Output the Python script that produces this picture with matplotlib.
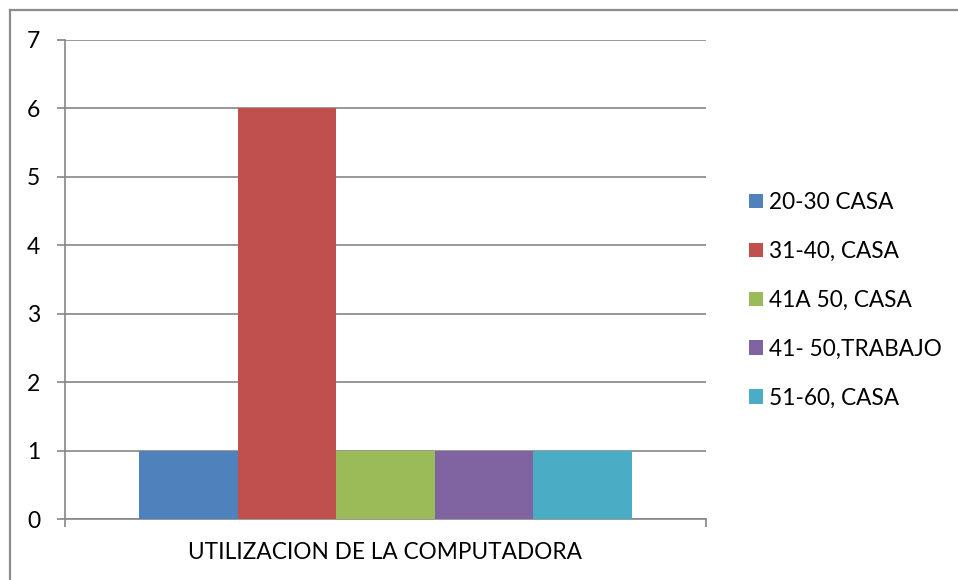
import matplotlib.pyplot as plt
from matplotlib.lines import Line2D
from matplotlib.patches import Patch

plt.rcParams["font.family"] = ["Lato", "DejaVu Sans"]

series = ["20-30 CASA", "31-40, CASA", "41A 50, CASA", "41- 50,TRABAJO", "51-60, CASA"]
values = [1, 6, 1, 1, 1]
colors = ["#4f81bd", "#c0504d", "#9bbb59", "#8064a2", "#4bacc6"]
category = "UTILIZACION DE LA COMPUTADORA"
yticks = [0, 1, 2, 3, 4, 5, 6, 7]

grid_col = "#868686"

fig = plt.figure(figsize=(9.58, 5.80), dpi=100)
ax = fig.add_axes([65 / 958, 61 / 580, 641 / 958, 479 / 580])

# figure frame (top and left edges visible in the original)
fig.add_artist(Line2D([9.5 / 958, 9.5 / 958], [0, 1 - 9.5 / 580], transform=fig.transFigure,
                      color="#8c8c8c", lw=1.6))
fig.add_artist(Line2D([9.5 / 958, 1], [1 - 9.5 / 580, 1 - 9.5 / 580], transform=fig.transFigure,
                      color="#8c8c8c", lw=1.6))

width = 0.769 / len(values)
start = 0.5 - width * len(values) / 2
for i, (name, v, c) in enumerate(zip(series, values, colors)):
    ax.bar(start + width * (i + 0.5), v, width=width, color=c, label=name, zorder=3)

ax.set_xlim(0, 1)
ax.set_ylim(0, 7)
ax.set_yticks(yticks)
ax.set_xticks([0, 1])
ax.set_xticklabels(["", ""])
ax.yaxis.grid(True, color=grid_col, lw=1.2, zorder=0)
ax.tick_params(axis="y", length=6, width=1.2, color=grid_col, pad=12, labelsize=16.5)
ax.tick_params(axis="x", length=6, width=1.2, color=grid_col)

for s in ["top", "right"]:
    ax.spines[s].set_visible(False)
for s in ["left", "bottom"]:
    ax.spines[s].set_color(grid_col)
    ax.spines[s].set_linewidth(1.2)

ax.text(0.5, -0.069, category, transform=ax.transAxes, ha="center", va="center", fontsize=16.3)

handles = [Patch(facecolor=c, edgecolor="none") for c in colors]
leg = fig.legend(handles, series, loc="upper left", bbox_to_anchor=(740 / 958, 1 - 183 / 580),
                 frameon=False, fontsize=16.3, handlelength=0.6, handleheight=0.6,
                 handletextpad=0.3, labelspacing=1.23, borderaxespad=0)

fig.savefig("out.png", dpi=100)
